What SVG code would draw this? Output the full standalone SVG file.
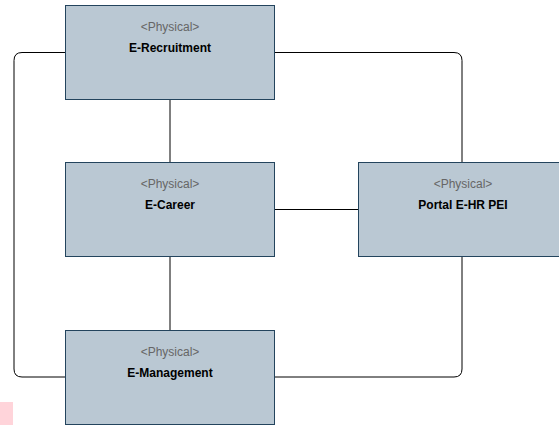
<svg xmlns="http://www.w3.org/2000/svg" width="559" height="425" viewBox="0 0 559 425">
<style>
.box{fill:#bac8d3;stroke:#23445d;stroke-width:1}
.st{font-family:"Liberation Sans",Arial,sans-serif;font-size:12px;fill:#666666;text-anchor:middle}
.nm{font-family:"Liberation Sans",Arial,sans-serif;font-size:12px;font-weight:bold;fill:#000000;text-anchor:middle}
.c{fill:none;stroke:#000000;stroke-width:1}
</style>
<rect x="0" y="402" width="13" height="23" fill="#ffd4da"/>
<g id="connectors">
<path class="c" d="M65.5 52.5 H22 Q14 52.5 14 60.5 V369 Q14 377 22 377 H65.5"/>
<path class="c" d="M275 52.5 H454 Q462 52.5 462 60.5 V162.5"/>
<path class="c" d="M462 256.5 V369 Q462 377 454 377 H275"/>
<path class="c" d="M170 99.5 V162.5"/>
<path class="c" d="M170 256.5 V330.5"/>
<path class="c" d="M275 209.5 H358.5"/>
</g>
<g id="e-recruitment">
<rect class="box" x="65.5" y="5.5" width="209" height="94"/>
<text class="st" x="170" y="31">&lt;Physical&gt;</text>
<text class="nm" x="170" y="52">E-Recruitment</text>
</g>
<g id="e-career">
<rect class="box" x="65.5" y="162.5" width="209" height="94"/>
<text class="st" x="170" y="188">&lt;Physical&gt;</text>
<text class="nm" x="170" y="209">E-Career</text>
</g>
<g id="portal">
<rect class="box" x="358.5" y="162.5" width="209" height="94"/>
<text class="st" x="463" y="188">&lt;Physical&gt;</text>
<text class="nm" x="463" y="209">Portal E-HR PEI</text>
</g>
<g id="e-management">
<rect class="box" x="65.5" y="330.5" width="209" height="94"/>
<text class="st" x="170" y="356">&lt;Physical&gt;</text>
<text class="nm" x="170" y="377">E-Management</text>
</g>
</svg>
